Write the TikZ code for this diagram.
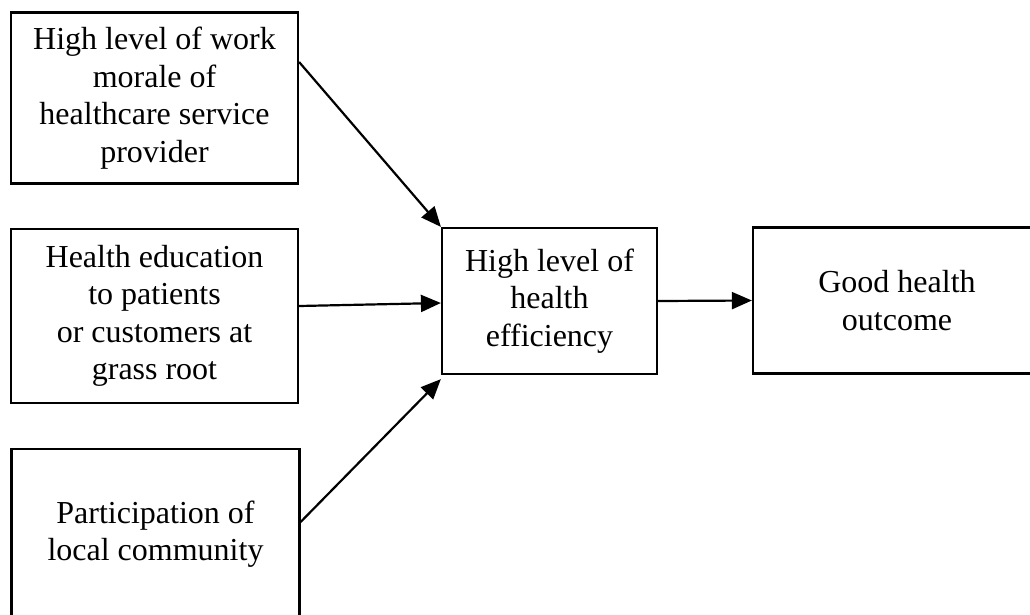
\documentclass[tikz,border=0pt]{standalone}
\usepackage{fontspec}
\setmainfont{Liberation Serif}
\usetikzlibrary{arrows.meta}
\begin{document}
\begin{tikzpicture}[x=1pt,y=-1pt,
  box/.style={draw,line width=2.2pt,rectangle,inner sep=0pt,align=center,
    font=\fontsize{32pt}{37.5pt}\selectfont},
  conn/.style={line width=2.2pt,-{Triangle[length=20pt,width=17pt]}}]
\useasboundingbox (0,0) rectangle (1030,614);
\clip (0,0) rectangle (1030,614);
\node[box,minimum width=287pt,minimum height=171pt] (b1) at (154.5,98)
  {High level of work\\morale of\\healthcare service\\provider};
\node[box,minimum width=287pt,minimum height=174pt] (b2) at (154.5,316)
  {Health education\\to patients\\or customers at\\grass root};
\node[box,minimum width=288pt,minimum height=170pt] (b3) at (155.5,534)
  {Participation of\\local community};
\node[box,minimum width=215pt,minimum height=146pt] (c) at (549.5,301)
  {High level of\\health\\efficiency};
\node[box,minimum width=288pt,minimum height=146pt] (r) at (897,300.5)
  {Good health\\outcome};
\draw[conn] ([yshift=36pt]b1.east) -- (c.north west);
\draw[conn] ([yshift=10pt]b2.east) -- ([yshift=-2pt]c.west);
\draw[conn] ([yshift=12pt]b3.east) -- ([yshift=-4pt]c.south west);
\draw[conn] (c.east) -- (r.west);
\end{tikzpicture}
\end{document}
